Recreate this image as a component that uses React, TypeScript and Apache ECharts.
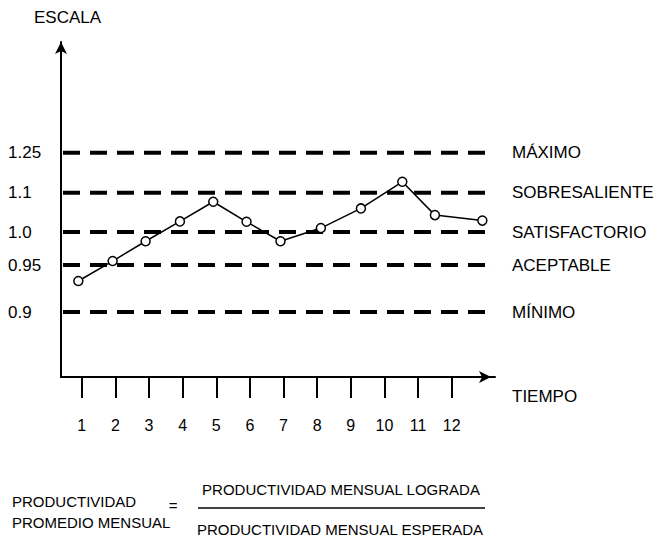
import React, { useEffect, useRef } from "react";
import * as echarts from "echarts";

// ---- Data ----
const MONTHS = [1, 2, 3, 4, 5, 6, 7, 8, 9, 10, 11, 12];
// where each point sits along the time axis (drawn slightly off the ticks in the original)
const POINT_MONTH = [0.9, 1.92, 2.9, 3.92, 4.91, 5.9, 6.91, 8.11, 9.3, 10.53, 11.5, 12.91];
const PRODUCTIVITY = [0.933, 0.956, 0.986, 1.027, 1.077, 1.026, 0.986, 1.01, 1.06, 1.141, 1.043, 1.029];

const LEVEL_VALUES = [0.9, 0.95, 1.0, 1.1, 1.25];
const LEVEL_LABELS = ["0.9", "0.95", "1.0", "1.1", "1.25"];
const LEVEL_NAMES = ["MÍNIMO", "ACEPTABLE", "SATISFACTORIO", "SOBRESALIENTE", "MÁXIMO"];

// ---- Layout: the scale is not linear; position of each level along the vertical axis ----
const Y_MIN = 0;
const Y_MAX = 335;
const LEVEL_AXIS_POS = [65, 112, 145, 184.3, 224.3];
const X_MIN = 0.385;
const X_MAX = 13.286;
const DASH_START = 0.444;

function toAxis(v: number): number {
  const n = LEVEL_VALUES.length;
  let i = 0;
  if (v <= LEVEL_VALUES[0]) i = 0;
  else if (v >= LEVEL_VALUES[n - 1]) i = n - 2;
  else {
    while (i < n - 2 && v > LEVEL_VALUES[i + 1]) i++;
  }
  const v0 = LEVEL_VALUES[i], v1 = LEVEL_VALUES[i + 1];
  const p0 = LEVEL_AXIS_POS[i], p1 = LEVEL_AXIS_POS[i + 1];
  return p0 + ((v - v0) / (v1 - v0)) * (p1 - p0);
}

const FONT = "'Liberation Sans', Arial, Helvetica, sans-serif";

export default function App() {
  const ref = useRef<HTMLDivElement>(null);

  useEffect(() => {
    if (!ref.current) return;
    const chart = echarts.init(ref.current, undefined, { renderer: "svg" });

    const labelFor = (arr: string[]) => (val: number) => {
      let best = 0;
      let d = Infinity;
      LEVEL_AXIS_POS.forEach((p, i) => {
        const dd = Math.abs(p - val);
        if (dd < d) { d = dd; best = i; }
      });
      return arr[best];
    };

    const levelSeries = LEVEL_VALUES.map((v, i) => ({
      type: "line",
      name: LEVEL_NAMES[i],
      z: 1,
      silent: true,
      showSymbol: false,
      symbol: "none",
      data: [
        [DASH_START, toAxis(v)],
        [X_MAX, toAxis(v)],
      ],
      lineStyle: { color: "#000", width: 4, type: [17, 10] },
    }));

    const option: any = {
      animation: false,
      backgroundColor: "#fff",
      textStyle: { fontFamily: FONT, color: "#000" },
      grid: { left: 61, top: 42, right: 666 - 495, bottom: 543 - 377, containLabel: false },
      xAxis: {
        type: "value",
        min: X_MIN,
        max: X_MAX,
        name: "TIEMPO",
        nameLocation: "end",
        nameGap: 17,
        nameTextStyle: {
          fontFamily: FONT,
          fontSize: 17,
          color: "#000",
          align: "left",
          verticalAlign: "top",
          padding: [11, 0, 0, 0],
        },
        axisLine: {
          onZero: false,
          lineStyle: { color: "#000", width: 2 },
          symbol: ["none", "arrow"],
          symbolSize: [9, 12],
          symbolOffset: [0, -4],
        },
        axisTick: {
          show: true,
          customValues: MONTHS,
          length: 21,
          lineStyle: { color: "#000", width: 2 },
        },
        axisLabel: {
          customValues: MONTHS,
          margin: 40,
          fontFamily: FONT,
          fontSize: 16,
          color: "#000",
          formatter: (v: number) => String(Math.round(v)),
        },
        splitLine: { show: false },
      },
      yAxis: [
        {
          type: "value",
          min: Y_MIN,
          max: Y_MAX,
          position: "left",
          name: "ESCALA",
          nameLocation: "end",
          nameGap: 16,
          nameTextStyle: {
            fontFamily: FONT,
            fontSize: 17,
            color: "#000",
            padding: [0, 0, 0, 13],
          },
          axisLine: {
            show: true,
            onZero: false,
            lineStyle: { color: "#000", width: 2 },
            symbol: ["none", "arrow"],
            symbolSize: [9, 12],
          },
          axisTick: { show: false },
          axisLabel: {
            customValues: LEVEL_AXIS_POS,
            align: "left",
            margin: 53,
            fontFamily: FONT,
            fontSize: 17,
            color: "#000",
            formatter: labelFor(LEVEL_LABELS),
          },
          splitLine: { show: false },
        },
        {
          type: "value",
          min: Y_MIN,
          max: Y_MAX,
          position: "right",
          axisLine: { show: false },
          axisTick: { show: false },
          axisLabel: {
            customValues: LEVEL_AXIS_POS,
            align: "left",
            margin: 17,
            fontFamily: FONT,
            fontSize: 17,
            color: "#000",
            formatter: labelFor(LEVEL_NAMES),
          },
          splitLine: { show: false },
        },
      ],
      series: [
        ...levelSeries,
        {
          type: "line",
          name: "Productividad",
          z: 5,
          data: POINT_MONTH.map((m, i) => [m, toAxis(PRODUCTIVITY[i])]),
          symbol: "circle",
          symbolSize: 9,
          showSymbol: true,
          lineStyle: { color: "#000", width: 1.5 },
          itemStyle: { color: "#fff", borderColor: "#000", borderWidth: 1.5 },
        },
      ],
      graphic: [
        {
          type: "text",
          left: 12,
          top: 494,
          style: { text: "PRODUCTIVIDAD", font: `15px ${FONT}`, fill: "#000" },
        },
        {
          type: "text",
          left: 12,
          top: 515,
          style: { text: "PROMEDIO MENSUAL", font: `15px ${FONT}`, fill: "#000" },
        },
        {
          type: "text",
          x: 173,
          y: 505,
          style: { text: "=", font: `15px ${FONT}`, fill: "#000", align: "center", verticalAlign: "middle" },
        },
        {
          type: "line",
          shape: { x1: 198, y1: 508, x2: 485, y2: 508 },
          style: { stroke: "#000", lineWidth: 1.5 },
        },
        {
          type: "text",
          x: 341,
          y: 489,
          style: { text: "PRODUCTIVIDAD MENSUAL LOGRADA", font: `15px ${FONT}`, fill: "#000", align: "center", verticalAlign: "middle" },
        },
        {
          type: "text",
          x: 340,
          y: 529,
          style: { text: "PRODUCTIVIDAD MENSUAL ESPERADA", font: `15px ${FONT}`, fill: "#000", align: "center", verticalAlign: "middle" },
        },
      ],
    };

    chart.setOption(option);
    return () => chart.dispose();
  }, []);

  return <div ref={ref} style={{ width: 666, height: 543, position: "absolute", left: 0, top: 0 }} />;
}
